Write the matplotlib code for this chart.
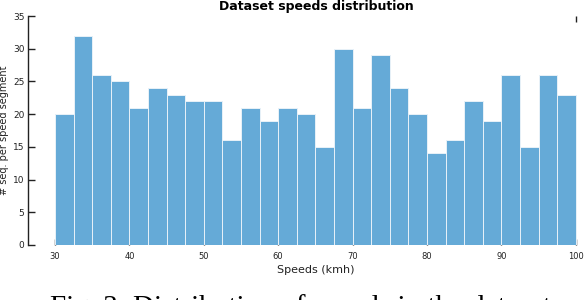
import numpy as np
import matplotlib.pyplot as plt

bin_start = 30
bin_width = 2.5
counts = [20, 32, 26, 25, 21, 24, 23, 22, 22, 16, 21, 19, 21, 20,
          15, 30, 21, 29, 24, 20, 14, 16, 22, 19, 26, 15, 26, 23]
x_ticks = [30, 40, 50, 60, 70, 80, 90, 100]
y_ticks = [0, 5, 10, 15, 20, 25, 30, 35]

edges = bin_start + bin_width * np.arange(len(counts) + 1)

fig = plt.figure(figsize=(5.84, 3.0), dpi=100)
# the original picture is cropped on the right, so the axes run past the edge
ax = fig.add_axes([28 / 584, 55 / 300, 576 / 584, 229 / 300])

ax.bar(edges[:-1], counts, width=bin_width, align='edge',
       color='#65aad7', edgecolor='#e8f1f8', linewidth=0.7, zorder=2)
ax.set_axisbelow(True)

ax.set_xlim(26.37, 103.8)
ax.set_ylim(0, 35)
ax.set_xticks(x_ticks)
ax.set_yticks(y_ticks)

for side in ['top', 'right', 'bottom']:
    ax.spines[side].set_visible(False)
ax.spines['left'].set_linewidth(1.0)
ax.spines['left'].set_color('#222222')

ax.tick_params(axis='y', direction='in', length=5, width=1, pad=2.5,
               labelsize=6.5, colors='#222222')
ax.tick_params(axis='x', direction='in', length=4.5, width=1, pad=5,
               labelsize=6, colors='#222222')

top = ax.secondary_xaxis('top')
top.set_xticks([x_ticks[-1]])
top.set_xticklabels([''])
top.tick_params(direction='in', length=4.5, width=1, colors='#222222')
top.spines['top'].set_visible(False)

ax.set_title('Dataset speeds distribution', fontsize=9, fontweight='bold', pad=4.5)
ax.set_xlabel('Speeds (kmh)', fontsize=8, labelpad=3, color='#222222')
ax.set_ylabel('# seq. per speed segment', fontsize=7, labelpad=3, color='#222222')

# figure caption, cut off at the bottom edge as in the source
fig.text(50 / 584, 1 - 315 / 300, 'Fig. 3: Distribution of speeds in the dataset',
         family='Liberation Serif', fontsize=21, ha='left', va='baseline')

fig.savefig('out.png', dpi=100)
